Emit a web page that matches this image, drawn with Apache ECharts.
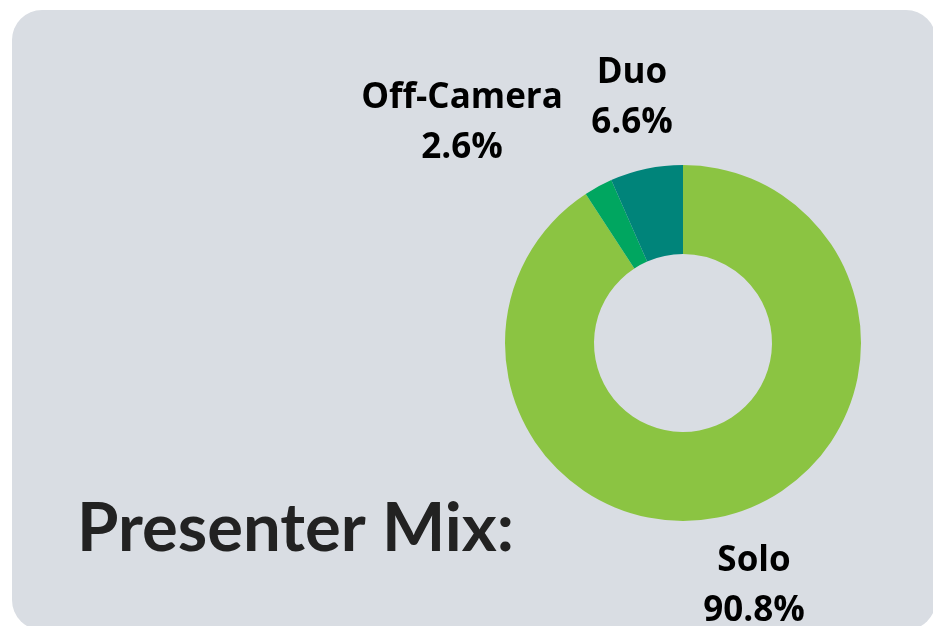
<!DOCTYPE html>
<html>
<head>
<meta charset="utf-8">
<style>
html,body{margin:0;padding:0;background:#ffffff;}
#chart{width:933px;height:626px;}
</style>
<script src="https://cdn.jsdelivr.net/npm/echarts@6/dist/echarts.min.js"></script>
</head>
<body>
<div id="chart"></div>
<script>
const categories = ['Solo', 'Off-Camera', 'Duo'];
const values = [90.8, 2.6, 6.6];
const colors = ['#8bc442', '#00a660', '#00847a'];
const titleText = 'Presenter Mix:';
const labelCenters = {Solo: [754, 586], 'Off-Camera': [462, 123], Duo: [632, 98]};

const chart = echarts.init(document.getElementById('chart'), null, {renderer: 'canvas'});
chart.setOption({
  backgroundColor: '#ffffff',
  animation: false,
  graphic: [{
    type: 'rect', z: -10, silent: true,
    shape: {x: 12, y: 10, width: 924, height: 620, r: 30},
    style: {fill: '#d9dde3'}
  }],
  title: {
    text: titleText, left: 72, top: 491,
    textStyle: {fontFamily: 'Lato', fontWeight: 'bold', fontSize: 67, color: '#222222'}
  },
  series: [{
    type: 'pie',
    center: [683, 343],
    radius: [89, 178],
    startAngle: 90,
    clockwise: true,
    avoidLabelOverlap: false,
    data: categories.map((c, i) => ({name: c, value: values[i], itemStyle: {color: colors[i]}})),
    label: {
      show: true, position: 'outside',
      formatter: p => p.name + '\n' + p.value.toFixed(1) + '%',
      fontFamily: 'Open Sans', fontWeight: 'bold', fontSize: 35, lineHeight: 50,
      color: '#000000', align: 'center'
    },
    labelLine: {show: false},
    labelLayout: p => {
      const c = labelCenters[categories[p.dataIndex]];
      return {x: c[0], y: c[1], align: 'center', verticalAlign: 'middle'};
    },
    emphasis: {disabled: true}
  }]
});
</script>
</body>
</html>
